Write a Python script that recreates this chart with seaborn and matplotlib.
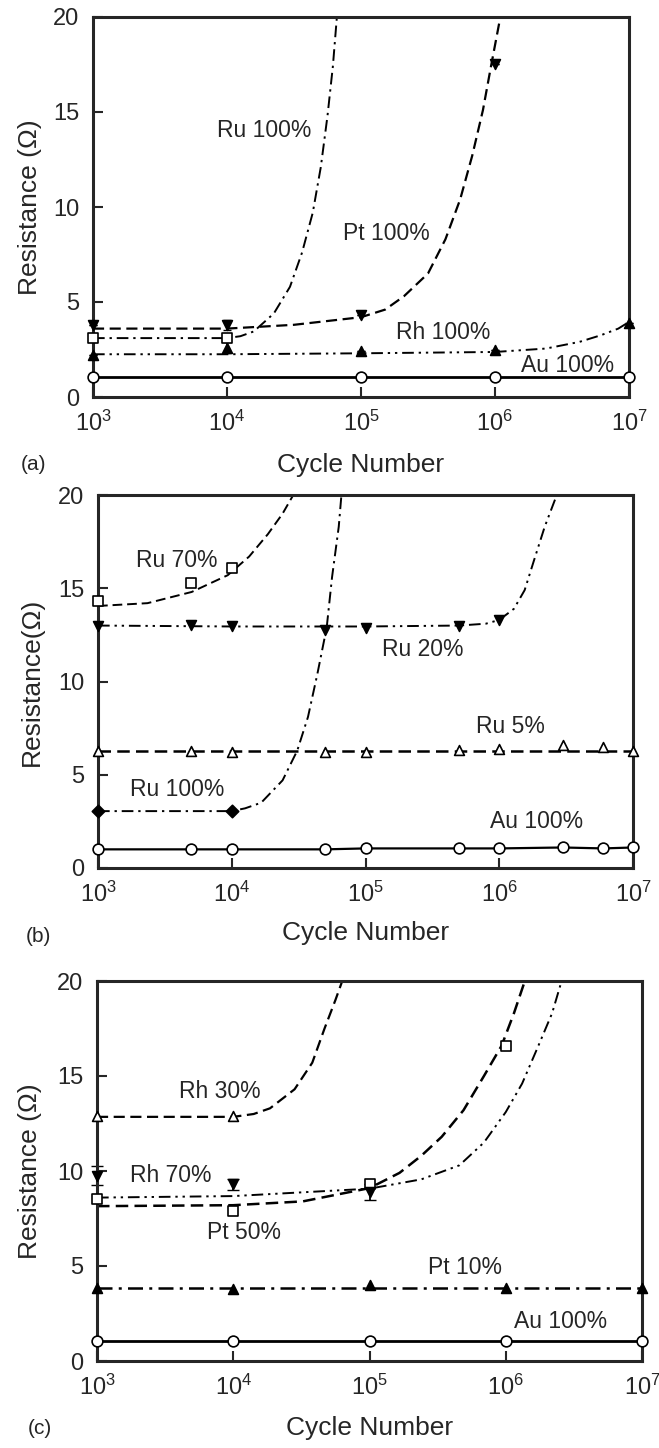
import numpy as np
import matplotlib
matplotlib.use("Agg")
import matplotlib.pyplot as plt
import seaborn as sns

# ---------------- data ----------------
# Panel (a)
a_x = [1e3, 1e4, 1e5, 1e6, 1e7]
a_au = [1.05, 1.05, 1.05, 1.05, 1.05]
a_rh100 = [2.2, 2.6, 2.4, 2.45, 3.9]
a_rh100_err = [0.0, 0.3, 0.0, 0.0, 0.0]
a_pt100_x = [1e3, 1e4, 1e5, 1e6]
a_pt100 = [3.8, 3.8, 4.3, 17.5]
a_pt100_err = [0.0, 0.25, 0.0, 0.0]
a_ru100_x = [1e3, 1e4]
a_ru100 = [3.13, 3.13]
# fitted curves (log10 cycle number, resistance)
a_rh100_fit_lx = [3.0, 4.0, 5.0, 6.0, 6.38, 6.63, 6.79, 6.92, 7.0]
a_rh100_fit_y = [2.25, 2.25, 2.3, 2.37, 2.55, 2.9, 3.25, 3.6, 3.95]
a_pt100_fit_lx = [3.0, 4.0, 4.5, 5.0, 5.18, 5.32, 5.5, 5.63, 5.74, 5.83, 5.91, 5.97, 6.04]
a_pt100_fit_y = [3.6, 3.6, 3.8, 4.2, 4.6, 5.3, 6.5, 8.3, 10.4, 12.7, 15.1, 17.4, 20.0]
a_ru100_fit_lx = [3.0, 4.0, 4.1, 4.2, 4.35, 4.47, 4.56, 4.64, 4.70, 4.75, 4.79, 4.82]
a_ru100_fit_y = [3.1, 3.1, 3.2, 3.45, 4.4, 5.8, 7.6, 9.7, 12.1, 14.8, 17.4, 20.0]

# Panel (b)
b_x = [1e3, 5e3, 1e4, 5e4, 1e5, 5e5, 1e6, 3e6, 6e6, 1e7]
b_au = [1.0, 1.0, 1.0, 1.0, 1.05, 1.05, 1.05, 1.1, 1.05, 1.1]
b_ru5 = [6.25, 6.25, 6.2, 6.2, 6.2, 6.35, 6.4, 6.6, 6.5, 6.3]
b_ru20_x = [1e3, 5e3, 1e4, 5e4, 1e5, 5e5, 1e6]
b_ru20 = [13.0, 13.05, 12.95, 12.75, 12.85, 13.0, 13.3]
b_ru70_x = [1e3, 5e3, 1e4]
b_ru70 = [14.3, 15.3, 16.1]
b_ru100_x = [1e3, 1e4]
b_ru100 = [3.05, 3.05]
b_ru5_fit_lx = [3.0, 7.0]
b_ru5_fit_y = [6.25, 6.25]
b_ru20_fit_lx = [3.0, 4.0, 5.0, 5.7, 5.9, 6.0, 6.11, 6.19, 6.26, 6.34, 6.43]
b_ru20_fit_y = [13.0, 12.95, 12.95, 13.0, 13.1, 13.3, 13.9, 14.9, 16.5, 18.3, 20.0]
b_ru70_fit_lx = [3.0, 3.37, 3.70, 3.97, 4.13, 4.27, 4.38, 4.46]
b_ru70_fit_y = [14.05, 14.2, 14.8, 15.7, 16.7, 17.9, 19.0, 20.0]
b_ru100_fit_lx = [3.0, 4.0, 4.1, 4.22, 4.38, 4.49, 4.57, 4.64, 4.71, 4.75, 4.80, 4.82]
b_ru100_fit_y = [3.05, 3.05, 3.2, 3.5, 4.7, 6.3, 8.1, 10.4, 12.9, 15.6, 18.3, 20.0]

# Panel (c)
c_x = [1e3, 1e4, 1e5, 1e6, 1e7]
c_au = [1.05, 1.05, 1.05, 1.05, 1.05]
c_pt10 = [3.86, 3.77, 4.0, 3.86, 3.86]
c_rh30_x = [1e3, 1e4]
c_rh30 = [12.9, 12.9]
c_pt50_x = [1e3, 1e4, 1e5, 1e6]
c_pt50 = [8.55, 7.9, 9.3, 16.6]
c_rh70_x = [1e3, 1e4, 1e5]
c_rh70 = [9.75, 9.3, 8.9]
c_rh70_err = [0.5, 0.3, 0.4]
c_pt10_fit_lx = [3.0, 7.0]
c_pt10_fit_y = [3.85, 3.85]
c_rh30_fit_lx = [3.0, 4.0, 4.15, 4.27, 4.45, 4.58, 4.67, 4.75, 4.80]
c_rh30_fit_y = [12.85, 12.85, 13.0, 13.3, 14.3, 15.7, 17.5, 19.0, 20.0]
c_pt50_fit_lx = [3.0, 4.0, 4.51, 5.0, 5.22, 5.38, 5.53, 5.69, 5.84, 5.97, 6.06, 6.14]
c_pt50_fit_y = [8.15, 8.2, 8.4, 9.1, 9.9, 10.8, 11.8, 13.2, 15.0, 16.6, 18.3, 20.0]
c_rh70_fit_lx = [3.0, 4.0, 5.0, 5.38, 5.66, 5.84, 6.0, 6.12, 6.24, 6.34, 6.41]
c_rh70_fit_y = [8.6, 8.68, 9.07, 9.56, 10.3, 11.5, 13.1, 14.6, 16.6, 18.3, 20.0]

y_ticks = [0, 5, 10, 15, 20]
x_ticks = [1e3, 1e4, 1e5, 1e6, 1e7]

# ---------------- style ----------------
sns.set_style("ticks")
plt.rcParams["font.family"] = ["Liberation Sans", "DejaVu Sans"]
plt.rcParams["mathtext.fontset"] = "custom"
plt.rcParams["mathtext.rm"] = "Liberation Sans"
plt.rcParams["mathtext.it"] = "Liberation Sans"

SOLID = "-"
DASH = (0, (5, 2.5))
DASHDOT = (0, (6, 2.5, 1.2, 2.5))
DASHDOTDOT = (0, (6, 2.5, 1.2, 2.5, 1.2, 2.5))

TICK_FS = 17
LABEL_FS = 19
ANNOT_FS = 16.5

fig = plt.figure(figsize=(6.59, 14.48), dpi=100)
W, H = 659.0, 1448.0


def make_ax(left, right, top, bottom):
    return fig.add_axes([left / W, 1 - bottom / H, (right - left) / W, (bottom - top) / H])


def style_ax(ax, ylabel, ylab_x, xlab_y):
    ax.set_xscale("log")
    ax.set_xlim(1e3, 1e7)
    ax.set_ylim(0, 20)
    ax.set_yticks(y_ticks)
    ax.set_xticks(x_ticks)
    ax.minorticks_off()
    ax.tick_params(axis="both", direction="in", length=7, width=1.5, labelsize=TICK_FS,
                   top=False, right=False)
    ax.tick_params(axis="x", pad=10)
    ax.tick_params(axis="y", pad=10)
    for s in ax.spines.values():
        s.set_linewidth(2.2)
        s.set_visible(True)
    ax.set_ylabel(ylabel, fontsize=LABEL_FS, va="center")
    ax.set_xlabel("Cycle Number", fontsize=LABEL_FS, va="center")
    ax.yaxis.set_label_coords(ylab_x, 0.5)
    ax.xaxis.set_label_coords(0.5, xlab_y)


def curve(ax, lx, y, ls, lw=1.4):
    sns.lineplot(x=10 ** np.asarray(lx), y=y, ax=ax, color="black", linestyle=ls,
                 linewidth=lw, estimator=None, sort=False, clip_on=False)


def pts(ax, x, y, marker, filled, s=50):
    sns.scatterplot(x=x, y=y, ax=ax, marker=marker, s=s,
                    color="black" if filled else "white", edgecolor="black",
                    linewidth=1.2, clip_on=False, zorder=5, legend=False)


def note(ax, lx, y, s):
    ax.text(10 ** lx, y, s, fontsize=ANNOT_FS, ha="center", va="center")


# ---------------- panel (a) ----------------
ax = make_ax(93, 629, 17, 397)
curve(ax, np.log10(a_x), a_au, SOLID, lw=2.0)
curve(ax, a_rh100_fit_lx, a_rh100_fit_y, DASHDOTDOT)
curve(ax, a_pt100_fit_lx, a_pt100_fit_y, DASH, lw=1.6)
curve(ax, a_ru100_fit_lx, a_ru100_fit_y, DASHDOT)
ax.errorbar(a_x, a_rh100, yerr=a_rh100_err, fmt="none", ecolor="black", elinewidth=1.2, capsize=3, clip_on=False)
ax.errorbar(a_pt100_x, a_pt100, yerr=a_pt100_err, fmt="none", ecolor="black", elinewidth=1.2, capsize=3, clip_on=False)
pts(ax, a_x, a_au, "o", False, s=60)
pts(ax, a_x, a_rh100, "^", True)
pts(ax, a_pt100_x, a_pt100, "v", True)
pts(ax, a_ru100_x, a_ru100, "s", False, s=45)
note(ax, 4.28, 14.0, "Ru 100%")
note(ax, 5.19, 8.6, "Pt 100%")
note(ax, 5.61, 3.4, "Rh 100%")
note(ax, 6.54, 1.65, "Au 100%")
style_ax(ax, "Resistance (Ω)", (30 - 93) / 536, (397 - 465) / 380)
fig.text(33 / W, 1 - 465 / H, "(a)", fontsize=15, ha="center", va="center")

# ---------------- panel (b) ----------------
ax = make_ax(98, 633, 495, 868)
curve(ax, np.log10(b_x), b_au, SOLID, lw=1.6)
curve(ax, b_ru5_fit_lx, b_ru5_fit_y, DASH, lw=1.8)
curve(ax, b_ru20_fit_lx, b_ru20_fit_y, DASHDOTDOT)
curve(ax, b_ru70_fit_lx, b_ru70_fit_y, DASH)
curve(ax, b_ru100_fit_lx, b_ru100_fit_y, DASHDOT)
pts(ax, b_x, b_au, "o", False, s=60)
pts(ax, b_x, b_ru5, "^", False)
pts(ax, b_ru20_x, b_ru20, "v", True)
pts(ax, b_ru70_x, b_ru70, "s", False, s=45)
pts(ax, b_ru100_x, b_ru100, "D", True, s=40)
note(ax, 3.59, 16.5, "Ru 70%")
note(ax, 5.43, 11.7, "Ru 20%")
note(ax, 6.08, 7.6, "Ru 5%")
note(ax, 3.59, 4.2, "Ru 100%")
note(ax, 6.28, 2.5, "Au 100%")
style_ax(ax, "Resistance(Ω)", (32 - 98) / 535, (868 - 933) / 373)
fig.text(38 / W, 1 - 937 / H, "(b)", fontsize=15, ha="center", va="center")

# ---------------- panel (c) ----------------
ax = make_ax(97, 642, 981, 1361)
curve(ax, np.log10(c_x), c_au, SOLID, lw=2.0)
curve(ax, c_pt10_fit_lx, c_pt10_fit_y, DASHDOT, lw=1.8)
curve(ax, c_rh30_fit_lx, c_rh30_fit_y, DASH, lw=1.6)
curve(ax, c_pt50_fit_lx, c_pt50_fit_y, DASH, lw=1.8)
curve(ax, c_rh70_fit_lx, c_rh70_fit_y, DASHDOTDOT)
ax.errorbar(c_rh70_x, c_rh70, yerr=c_rh70_err, fmt="none", ecolor="black", elinewidth=1.3, capsize=4, clip_on=False)
pts(ax, c_x, c_au, "o", False, s=60)
pts(ax, c_x, c_pt10, "^", True)
pts(ax, c_rh30_x, c_rh30, "^", False)
pts(ax, c_pt50_x, c_pt50, "s", False, s=45)
pts(ax, c_rh70_x, c_rh70, "v", True)
note(ax, 3.90, 14.2, "Rh 30%")
note(ax, 3.54, 9.75, "Rh 70%")
note(ax, 4.08, 6.75, "Pt 50%")
note(ax, 5.70, 4.9, "Pt 10%")
note(ax, 6.40, 2.1, "Au 100%")
style_ax(ax, "Resistance (Ω)", (30 - 97) / 545, (1361 - 1428) / 380)
fig.text(40 / W, 1 - 1428 / H, "(c)", fontsize=15, ha="center", va="center")

fig.savefig("out.png", dpi=100)
